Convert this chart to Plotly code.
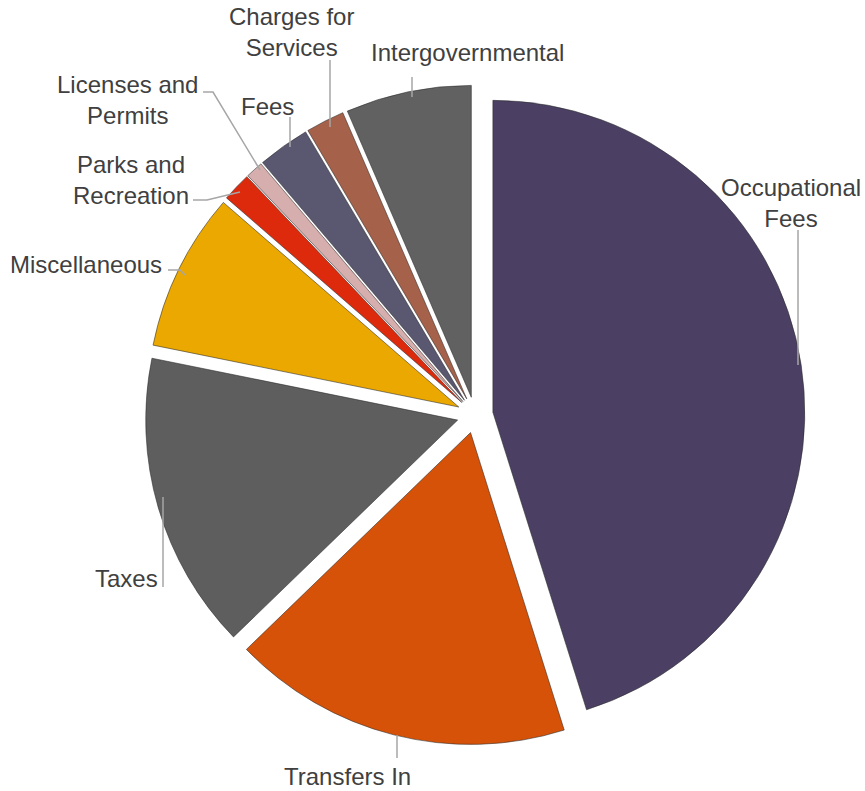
import plotly.graph_objects as go

# ---- data (percent of total, clockwise from 12 o'clock) ----
categories = ["Occupational Fees", "Transfers In", "Taxes", "Miscellaneous",
              "Parks and Recreation", "Licenses and Permits", "Fees",
              "Charges for Services", "Intergovernmental"]
values = [45.1, 17.6, 15.4, 8.2, 1.5, 0.9, 2.7, 2.0, 6.5]
label_text = ["Occupational<br>Fees", "Transfers In", "Taxes", "Miscellaneous",
              "Parks and<br>Recreation", "Licenses and<br>Permits", "Fees",
              "Charges for<br>Services", "Intergovernmental"]

colors = ["#4b4064", "#d65208", "#5e5e5e", "#eaa800", "#dd2a0c",
          "#d6aeae", "#5a5870", "#a5614a", "#616161"]

W, H = 865, 791


def px(x, y):
    return x / W, 1 - y / H


# pie box in pixels (center ~ (475,415), side ~660)
cx, cy, side = 475, 415, 660
dx0, dy0 = px(cx - side / 2, cy + side / 2)
dx1, dy1 = px(cx + side / 2, cy - side / 2)

fig = go.Figure(go.Pie(
    labels=categories,
    values=values,
    sort=False,
    direction="clockwise",
    rotation=0,
    pull=[0.058] * len(values),
    marker=dict(colors=colors, line=dict(color="rgba(40,40,40,0.55)", width=1)),
    textinfo="none",
    hoverinfo="label+percent",
    showlegend=False,
    domain=dict(x=[dx0, dx1], y=[dy0, dy1]),
))

# label placement (pixel centres) and leader lines
label_pos = {
    "Occupational Fees": (791, 203),
    "Transfers In": (347, 776),
    "Taxes": (126, 578),
    "Miscellaneous": (86, 264),
    "Parks and Recreation": (131, 180),
    "Licenses and Permits": (127, 100),
    "Fees": (267, 106),
    "Charges for Services": (291, 32),
    "Intergovernmental": (467, 53),
}
leaders = [
    [(798, 230), (798, 365)],
    [(412, 77), (412, 97)],
    [(330, 60), (330, 127)],
    [(290, 117), (290, 147)],
    [(203, 92), (213, 92), (260, 170)],
    [(193, 200), (207, 200), (240, 192)],
    [(168, 270), (180, 270), (185, 275)],
    [(163, 497), (163, 587)],
    [(397, 735), (397, 758)],
]

annotations = []
for cat, txt in zip(categories, label_text):
    x, y = px(*label_pos[cat])
    annotations.append(dict(
        x=x, y=y, xref="paper", yref="paper", text=txt, showarrow=False,
        xanchor="center", yanchor="middle", align="center",
        font=dict(family="Liberation Sans, Arial, sans-serif", size=24, color="#404040"),
    ))

shapes = []
for pts in leaders:
    p = [px(*q) for q in pts]
    path = "M " + " L ".join(f"{a:.5f},{b:.5f}" for a, b in p)
    shapes.append(dict(type="path", path=path, xref="paper", yref="paper",
                       line=dict(color="#a6a6a6", width=1.5)))

fig.update_layout(
    width=W, height=H,
    margin=dict(l=0, r=0, t=0, b=0),
    paper_bgcolor="white", plot_bgcolor="white",
    annotations=annotations, shapes=shapes,
)

fig.write_html(
    "out.html",
    config={"displayModeBar": False},
    post_script="document.body.style.margin='0';document.body.style.overflow='hidden';",
)
